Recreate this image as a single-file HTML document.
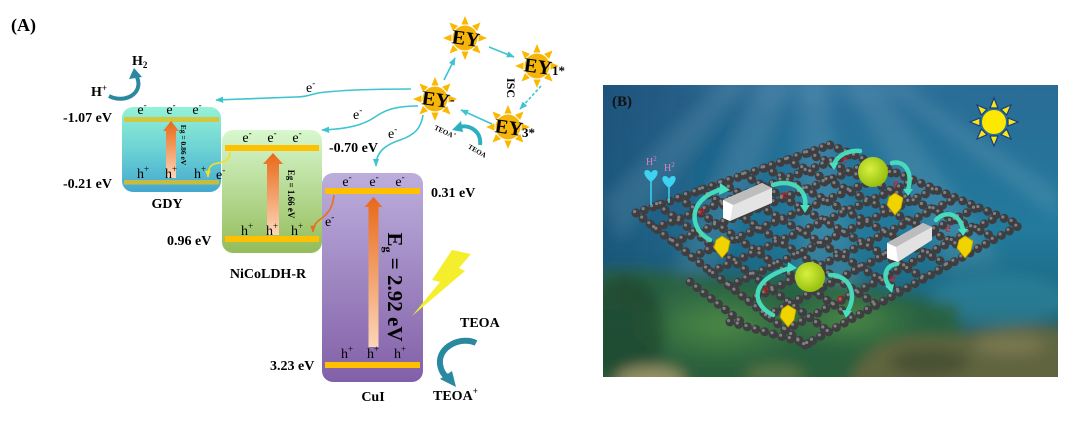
<!DOCTYPE html>
<html><head><meta charset="utf-8">
<style>
html,body{margin:0;padding:0;background:#fff;}
svg{display:block;}
text{font-family:"Liberation Serif","Times New Roman",serif;}
</style></head><body>
<svg width="1080" height="428" viewBox="0 0 1080 428" xmlns="http://www.w3.org/2000/svg">
<defs>
 <linearGradient id="gdy" x1="0" y1="0" x2="0" y2="1"><stop offset="0" stop-color="#94f2d6"/><stop offset="0.5" stop-color="#6cd2d4"/><stop offset="1" stop-color="#44a8cf"/></linearGradient>
 <linearGradient id="nico" x1="0" y1="0" x2="0" y2="1"><stop offset="0" stop-color="#d8f8ce"/><stop offset="1" stop-color="#94bc5a"/></linearGradient>
 <linearGradient id="cui" x1="0" y1="0" x2="0" y2="1"><stop offset="0" stop-color="#bcaedc"/><stop offset="1" stop-color="#8260a8"/></linearGradient>
 <linearGradient id="arr" x1="0" y1="0" x2="0" y2="1"><stop offset="0" stop-color="#e86818"/><stop offset="1" stop-color="#fcd6b8"/></linearGradient>
 <marker id="ma" viewBox="0 0 10 8" refX="9" refY="4" markerWidth="8" markerHeight="6.4" markerUnits="userSpaceOnUse" orient="auto"><path d="M0,0 L10,4 L0,8 z" fill="#3cc4d0"/></marker>
 <marker id="my" viewBox="0 0 10 8" refX="9" refY="4" markerWidth="7" markerHeight="5.6" markerUnits="userSpaceOnUse" orient="auto"><path d="M0,0 L10,4 L0,8 z" fill="#f2e020"/></marker>
 <marker id="mo" viewBox="0 0 10 8" refX="9" refY="4" markerWidth="7" markerHeight="5.6" markerUnits="userSpaceOnUse" orient="auto"><path d="M0,0 L10,4 L0,8 z" fill="#e8701a"/></marker>
 <g id="sun">
  <path fill="#fbb800" d="M22,0 L13.5,3.6 L13.5,-3.6Z M15.56,15.56 L12.1,7 L7,12.1Z M0,22 L3.6,13.5 L-3.6,13.5Z M-15.56,15.56 L-7,12.1 L-12.1,7Z M-22,0 L-13.5,3.6 L-13.5,-3.6Z M-15.56,-15.56 L-12.1,-7 L-7,-12.1Z M0,-22 L-3.6,-13.5 L3.6,-13.5Z M15.56,-15.56 L7,-12.1 L12.1,-7Z"/>
  <circle r="12.5" fill="#f6b50a"/>
 </g>
 <linearGradient id="bg" x1="0" y1="0" x2="0" y2="1">
  <stop offset="0" stop-color="#2a6c96"/><stop offset="0.5" stop-color="#227a9c"/><stop offset="0.75" stop-color="#1d6880"/><stop offset="1" stop-color="#24503e"/>
 </linearGradient>
 <linearGradient id="lft" x1="0" y1="0" x2="1" y2="0"><stop offset="0" stop-color="#123f66" stop-opacity="0.6"/><stop offset="1" stop-color="#123f66" stop-opacity="0"/></linearGradient>
 <radialGradient id="glow" cx="0.5" cy="0" r="0.6"><stop offset="0" stop-color="#a8e0f0" stop-opacity="0.65"/><stop offset="1" stop-color="#a8e0f0" stop-opacity="0"/></radialGradient>
 <radialGradient id="lg" cx="0.5" cy="0.5" r="0.5"><stop offset="0" stop-color="#5a9a48" stop-opacity="0.7"/><stop offset="1" stop-color="#5a9a48" stop-opacity="0"/></radialGradient>
 <radialGradient id="ball" cx="0.4" cy="0.4" r="0.6"><stop offset="0" stop-color="#d8f040"/><stop offset="1" stop-color="#98c010"/></radialGradient>
 <filter id="blur" x="-10%" y="-10%" width="120%" height="120%"><feGaussianBlur stdDeviation="7"/></filter>
 <clipPath id="cb"><rect x="603" y="85" width="455" height="292"/></clipPath>
 <g id="net">
  <line x1="636" y1="213" x2="830" y2="145"/><line x1="655" y1="228" x2="851" y2="154"/><line x1="674" y1="242" x2="872" y2="163"/><line x1="692" y1="257" x2="893" y2="172"/><line x1="711" y1="272" x2="914" y2="181"/><line x1="730" y1="286" x2="936" y2="189"/><line x1="749" y1="301" x2="957" y2="198"/><line x1="767" y1="316" x2="978" y2="207"/><line x1="786" y1="330" x2="999" y2="216"/><line x1="805" y1="345" x2="1020" y2="225"/>
  <line x1="636" y1="213" x2="805" y2="345"/><line x1="658" y1="205" x2="829" y2="332"/><line x1="679" y1="198" x2="853" y2="318"/><line x1="701" y1="190" x2="877" y2="305"/><line x1="722" y1="183" x2="901" y2="292"/><line x1="744" y1="175" x2="924" y2="278"/><line x1="765" y1="168" x2="948" y2="265"/><line x1="787" y1="160" x2="972" y2="252"/><line x1="808" y1="153" x2="996" y2="238"/><line x1="830" y1="145" x2="1020" y2="225"/>
  <line x1="690" y1="282" x2="745" y2="325"/><line x1="730" y1="322" x2="812" y2="345"/>
 </g>
</defs>

<!-- (A) -->
<text x="11" y="31" font-size="18" font-weight="bold">(A)</text>

<!-- H+ / H2 -->
<text x="91" y="96" font-size="14" font-weight="bold">H<tspan dy="-5" font-size="9">+</tspan></text>
<text x="132" y="65" font-size="14" font-weight="bold">H<tspan dy="3" font-size="9">2</tspan></text>
<path d="M109,96 C124,104 144,94 137,77" fill="none" stroke="#2a88a0" stroke-width="4"/>
<polygon points="129,79 134,68 142,77" fill="#2a88a0"/>

<!-- GDY -->
<rect x="122" y="107" width="99" height="85" rx="11" fill="url(#gdy)"/>
<rect x="124" y="117" width="95" height="5" fill="#d2c840"/>
<rect x="124" y="180" width="95" height="4.5" fill="#c8bc40"/>
<polygon points="171,121 179,131 176,131 176,178 166,178 166,131 163,131" fill="url(#arr)"/>
<text transform="translate(181,145) rotate(90)" text-anchor="middle" font-size="7.5" font-weight="bold">Eg = 0.86 eV</text>
<g font-size="14" text-anchor="middle">
<text x="142" y="114">e<tspan dy="-6" font-size="9">-</tspan></text>
<text x="171" y="114">e<tspan dy="-6" font-size="9">-</tspan></text>
<text x="197" y="114">e<tspan dy="-6" font-size="9">-</tspan></text>
<text x="143" y="178">h<tspan dy="-6" font-size="9">+</tspan></text>
<text x="171" y="178">h<tspan dy="-6" font-size="9">+</tspan></text>
<text x="200" y="178">h<tspan dy="-6" font-size="9">+</tspan></text>
</g>
<text x="63" y="122" font-size="14" font-weight="bold">-1.07 eV</text>
<text x="63" y="188" font-size="14" font-weight="bold">-0.21 eV</text>
<text x="167" y="208" font-size="14" font-weight="bold" text-anchor="middle">GDY</text>

<!-- NiCoLDH-R -->
<rect x="222" y="130" width="100" height="123" rx="11" fill="url(#nico)"/>
<rect x="225" y="145" width="94" height="6" fill="#ffc000"/>
<rect x="225" y="236" width="94" height="6" fill="#ffc000"/>
<polygon points="273,153 283,164 279,164 279,235 267,235 267,164 263,164" fill="url(#arr)"/>
<text transform="translate(288,194) rotate(90)" text-anchor="middle" font-size="9" font-weight="bold">Eg = 1.66 eV</text>
<g font-size="14" text-anchor="middle">
<text x="247" y="142">e<tspan dy="-6" font-size="9">-</tspan></text>
<text x="272" y="142">e<tspan dy="-6" font-size="9">-</tspan></text>
<text x="297" y="142">e<tspan dy="-6" font-size="9">-</tspan></text>
<text x="247" y="235">h<tspan dy="-6" font-size="9">+</tspan></text>
<text x="272" y="235">h<tspan dy="-6" font-size="9">+</tspan></text>
<text x="297" y="235">h<tspan dy="-6" font-size="9">+</tspan></text>
</g>
<text x="167" y="245" font-size="14" font-weight="bold">0.96 eV</text>
<text x="268" y="278" font-size="14" font-weight="bold" text-anchor="middle">NiCoLDH-R</text>
<text x="329" y="152" font-size="14" font-weight="bold">-0.70 eV</text>

<!-- yellow e- transfer -->
<path d="M230,152 C230,162 222,162 214,164 C209,166 208,171 208,177" fill="none" stroke="#f2e020" stroke-width="1.6" marker-end="url(#my)"/>
<text x="216" y="179" font-size="14">e<tspan dy="-6" font-size="9">-</tspan></text>

<!-- CuI -->
<rect x="322" y="173" width="101" height="209" rx="11" fill="url(#cui)"/>
<rect x="325" y="188" width="95" height="6" fill="#ffc000"/>
<rect x="325" y="362" width="95" height="6" fill="#ffc000"/>
<polygon points="373.5,197 382.5,207 378.5,207 378.5,347 368.5,347 368.5,207 364.5,207" fill="url(#arr)"/>
<text transform="translate(388,287) rotate(90)" text-anchor="middle" font-size="21" font-weight="bold">E<tspan dy="4" font-size="12">g</tspan><tspan dy="-4"> = 2.92 eV</tspan></text>
<g font-size="14" text-anchor="middle">
<text x="347" y="186">e<tspan dy="-6" font-size="9">-</tspan></text>
<text x="374" y="186">e<tspan dy="-6" font-size="9">-</tspan></text>
<text x="400" y="186">e<tspan dy="-6" font-size="9">-</tspan></text>
<text x="347" y="358">h<tspan dy="-6" font-size="9">+</tspan></text>
<text x="373" y="358">h<tspan dy="-6" font-size="9">+</tspan></text>
<text x="400" y="358">h<tspan dy="-6" font-size="9">+</tspan></text>
</g>
<text x="431" y="197" font-size="14" font-weight="bold">0.31 eV</text>
<text x="270" y="370" font-size="14" font-weight="bold">3.23 eV</text>
<text x="373" y="401" font-size="14" font-weight="bold" text-anchor="middle">CuI</text>

<!-- orange e- transfer -->
<path d="M334,195 C333,205 330,212 322,218 C316,222 313,226 313,232" fill="none" stroke="#e8701a" stroke-width="1.6" marker-end="url(#mo)"/>
<text x="325" y="226" font-size="14">e<tspan dy="-6" font-size="9">-</tspan></text>

<!-- lightning -->
<polygon points="452,250 471,254 459,268 465,271 412,316 440,282 432,280" fill="#f5ee2c"/>

<!-- TEOA -->
<text x="460" y="327" font-size="14" font-weight="bold">TEOA</text>
<text x="433" y="400" font-size="14" font-weight="bold">TEOA<tspan dy="-6" font-size="9">+</tspan></text>
<path d="M476,343 C462,336 438,346 440,364 C441,371 444,375 447,377" fill="none" stroke="#2a88a0" stroke-width="6"/>
<polygon points="440,379 456,387 452,371" fill="#2a88a0"/>

<!-- cyan e- connectors -->
<g fill="none" stroke="#3cc4d0" stroke-width="1.6">
<path d="M411,89 C380,89 340,90 318,93 C310,95 305,97 295,97 L216,100" marker-end="url(#ma)"/>
<path d="M418,106 C395,106 385,110 375,117 C365,124 350,129 322,130" marker-end="url(#ma)"/>
<path d="M423,115 C421,128 415,135 400,140 C385,145 376,152 376,166" marker-end="url(#ma)"/>
<path d="M444,80 L455,58" marker-end="url(#ma)"/>
<path d="M489,47 L514,57" marker-end="url(#ma)"/>
<path d="M541,86 L520,109" stroke-dasharray="3 2" marker-end="url(#ma)"/>
<path d="M492,124 L461,110" marker-end="url(#ma)"/>
</g>
<g font-size="14">
<text x="306" y="92">e<tspan dy="-6" font-size="9">-</tspan></text>
<text x="353" y="119">e<tspan dy="-6" font-size="9">-</tspan></text>
<text x="388" y="138">e<tspan dy="-6" font-size="9">-</tspan></text>
</g>

<!-- EY suns -->
<use href="#sun" x="465" y="38"/>
<use href="#sun" x="537" y="66"/>
<use href="#sun" x="508" y="127"/>
<use href="#sun" x="435" y="99"/>
<g font-size="20" font-weight="bold">
<text x="466" y="45" text-anchor="middle" transform="rotate(8 465 38)">EY</text>
<text x="538" y="73" text-anchor="middle" transform="rotate(8 537 66)">EY</text>
<text x="509" y="134" text-anchor="middle" transform="rotate(8 508 127)">EY</text>
<text x="436" y="106" text-anchor="middle" transform="rotate(8 435 99)">EY</text>
</g>
<text x="552" y="75" font-size="13" font-weight="bold">1*</text>
<text x="522" y="137" font-size="13" font-weight="bold">3*</text>
<text x="450" y="104" font-size="14" font-weight="bold">-</text>
<text transform="translate(507,88) rotate(90)" text-anchor="middle" font-size="12" font-weight="bold">ISC</text>
<text transform="translate(444,134) rotate(25)" text-anchor="middle" font-size="7" font-weight="bold">TEOA<tspan dy="-3" font-size="5">+</tspan></text>
<text transform="translate(476,153) rotate(30)" text-anchor="middle" font-size="7" font-weight="bold">TEOA</text>
<path d="M480,145 C482,132 470,124 459,127" fill="none" stroke="#2ab0c0" stroke-width="4"/>
<polygon points="452,130 461,121 463,132" fill="#2ab0c0"/>

<!-- (B) panel -->
<g clip-path="url(#cb)">
 <rect x="603" y="85" width="455" height="292" fill="url(#bg)"/>
 <g filter="url(#blur)">
  <rect x="590" y="70" width="210" height="240" fill="url(#lft)"/>
  <ellipse cx="810" cy="85" rx="220" ry="150" fill="url(#glow)"/>
  <g fill="#ffffff" opacity="0.09">
   <polygon points="760,85 790,85 700,300 660,300"/>
   <polygon points="800,85 825,85 860,300 800,300"/>
   <polygon points="845,85 880,85 1000,260 950,270"/>
   <polygon points="720,85 745,85 620,240 604,200"/>
   <polygon points="880,85 905,85 1058,190 1058,220"/>
  </g>
  <ellipse cx="1000" cy="300" rx="70" ry="25" fill="#3a94ac" opacity="0.4"/>
  <path d="M590,272 C650,262 700,282 760,276 C820,270 880,292 960,305 L960,390 L590,390 Z" fill="#2c6238" opacity="0.85"/>
  <ellipse cx="720" cy="325" rx="90" ry="40" fill="url(#lg)"/>
  <ellipse cx="850" cy="320" rx="70" ry="30" fill="url(#lg)"/>
  <ellipse cx="625" cy="330" rx="40" ry="55" fill="#183a28" opacity="0.5"/>
  <path d="M848,390 C858,342 900,332 950,337 C990,326 1030,320 1070,330 L1070,390Z" fill="#66663e" opacity="0.9"/>
  <ellipse cx="930" cy="362" rx="40" ry="14" fill="#3a4430" opacity="0.6"/>
  <ellipse cx="1010" cy="345" rx="35" ry="10" fill="#8a8658" opacity="0.6"/>
  <ellipse cx="650" cy="380" rx="35" ry="14" fill="#b0a070" opacity="0.8"/>
  <ellipse cx="775" cy="375" rx="30" ry="10" fill="#7a8050" opacity="0.6"/>
 </g>

 <!-- sun -->
 <g transform="translate(994,122)" fill="#f4e818" stroke="#1c3a80" stroke-width="1.2">
  <path d="M24,0 L14,4 L14,-4Z M17,17 L12.7,7 L7,12.7Z M0,24 L4,14 L-4,14Z M-17,17 L-7,12.7 L-12.7,7Z M-24,0 L-14,4 L-14,-4Z M-17,-17 L-12.7,-7 L-7,-12.7Z M0,-24 L-4,-14 L4,-14Z M17,-17 L7,-12.7 L12.7,-7Z"/>
  <circle r="12" fill="#ffe800" stroke="none"/>
 </g>

 <!-- net -->
 <use href="#net" stroke="#262626" stroke-width="1.4"/>
 <use href="#net" stroke="#3e3e40" stroke-width="9" stroke-linecap="round" stroke-dasharray="0 9" fill="none"/>
 <use href="#net" x="-1.4" y="-1.4" stroke="#808084" stroke-width="3.2" stroke-linecap="round" stroke-dasharray="0 9" fill="none"/>

 <!-- hearts -->
 <g fill="#3cd4f0" stroke="#3cd4f0">
  <line x1="651" y1="180" x2="651" y2="205" stroke-width="1.5"/>
  <line x1="669" y1="186" x2="669" y2="203" stroke-width="1.5"/>
  <path stroke="none" d="M651,182 C643,176 643,170 647,170 C649,170 651,172 651,173 C651,172 653,170 655,170 C659,170 659,176 651,182Z"/>
  <path stroke="none" d="M669,188 C661,182 661,176 665,176 C667,176 669,178 669,179 C669,178 671,176 673,176 C677,176 677,182 669,188Z"/>
 </g>
 <text x="646" y="165" font-size="10" fill="#e080c8">H<tspan dy="-4" font-size="7">2</tspan></text>
 <text x="664" y="171" font-size="10" fill="#e080c8">H<tspan dy="-4" font-size="7">2</tspan></text>

 <!-- prisms -->
 <polygon points="723,200 762,183 772,188 772,203 730,221 723,218" fill="#e4e4e4"/>
 <polygon points="723,200 762,183 772,188 733,205" fill="#bdbdbd"/>
 <polygon points="723,200 733,205 730,221 723,218" fill="#ffffff"/>
 <polygon points="887,243 923,223 932,227 932,240 898,262 887,258" fill="#e2e2e2"/>
 <polygon points="887,243 923,223 932,227 896,247" fill="#bcbcbc"/>
 <polygon points="887,243 896,247 898,262 887,258" fill="#ffffff"/>

 <!-- balls -->
 <circle cx="873" cy="172" r="15" fill="url(#ball)"/>
 <circle cx="810" cy="277" r="15" fill="url(#ball)"/>

 <!-- gems -->
 <g fill="#f0d400" stroke="#b89a00" stroke-width="0.8">
  <polygon points="722,236 730,241 728,251 722,258 714,248 716,240"/>
  <polygon points="895,193 903,198 901,208 895,215 887,205 889,197"/>
  <polygon points="965,236 973,241 971,251 965,258 957,248 959,240"/>
  <polygon points="788,305 796,310 794,320 788,327 780,317 782,309"/>
 </g>

 <!-- cyan arrows -->
 <g fill="none" stroke="#48e0c0" stroke-width="4.5" stroke-linecap="round" opacity="0.95">
  <path d="M710,240 C690,230 685,200 722,189"/>
  <path d="M773,185 C792,178 808,190 805,207"/>
  <path d="M860,151 C845,150 835,158 834,166"/>
  <path d="M892,163 C905,160 913,172 908,190"/>
  <path d="M936,220 C945,210 960,213 963,230"/>
  <path d="M897,264 C885,265 882,278 890,287"/>
  <path d="M773,315 C752,305 748,280 790,268"/>
  <path d="M830,275 C850,275 858,295 847,312"/>
 </g>
 <g fill="#48e0c0">
  <polygon points="720,183 730,190 719,195"/>
  <polygon points="800,205 810,205 805,213"/>
  <polygon points="829,163 838,163 834,170"/>
  <polygon points="903,189 913,189 908,196"/>
  <polygon points="958,229 968,229 963,236"/>
  <polygon points="885,286 894,284 892,293"/>
  <polygon points="788,262 797,268 787,273"/>
  <polygon points="842,310 852,311 846,318"/>
 </g>

 <!-- red e- -->
 <g font-size="13" fill="#e81010">
  <text x="699" y="215">e<tspan dy="-5" font-size="8">-</tspan></text>
  <text x="782" y="198">e<tspan dy="-5" font-size="8">-</tspan></text>
  <text x="842" y="163">e<tspan dy="-5" font-size="8">-</tspan></text>
  <text x="893" y="187">e<tspan dy="-5" font-size="8">-</tspan></text>
  <text x="945" y="232">e<tspan dy="-5" font-size="8">-</tspan></text>
  <text x="890" y="282">e<tspan dy="-5" font-size="8">-</tspan></text>
  <text x="837" y="302">e<tspan dy="-5" font-size="8">-</tspan></text>
  <text x="763" y="293">e<tspan dy="-5" font-size="8">-</tspan></text>
 </g>

 <text x="612" y="106" font-size="15" font-weight="bold" fill="#111">(B)</text>
</g>
</svg>
</body></html>
